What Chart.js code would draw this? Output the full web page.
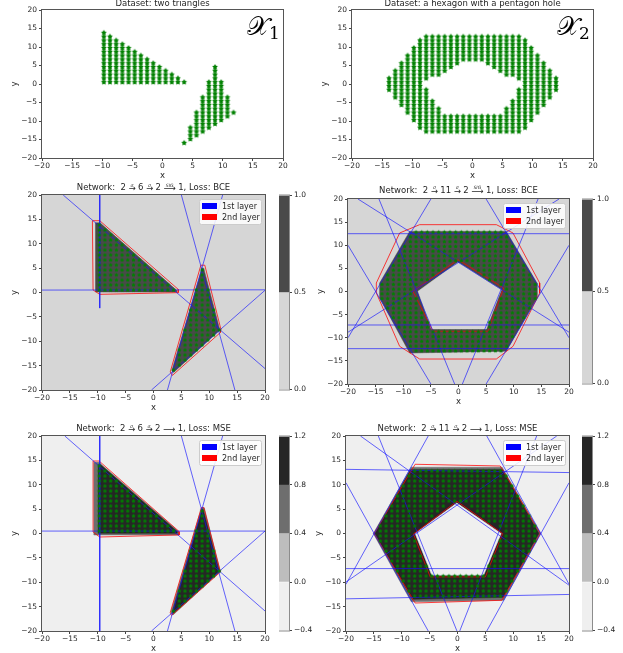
<!DOCTYPE html>
<html>
<head>
<meta charset="utf-8">
<script src="https://cdn.jsdelivr.net/npm/chart.js@4.4.1/dist/chart.umd.min.js"></script>
<style>
  html, body { margin: 0; padding: 0; background: #fff; }
  #fig { position: relative; width: 623px; height: 653px; overflow: hidden; }
  #fig canvas { position: absolute; }
</style>
</head>
<body>
<div id="fig"></div>
<script>
// tick values shared by all six panels
const axisTicks = [-20, -15, -10, -5, 0, 5, 10, 15, 20];

// dataset X1, two triangles: sample columns (x, lowest y, highest y)
const triColX  = [-9.74, -8.72, -7.69, -6.67, -5.64, -4.62, -3.59, -2.56, -1.54, -0.51, 0.51, 1.54, 2.56, 3.59,
                  3.59, 4.62, 5.64, 6.67, 7.69, 8.72, 9.74, 10.77, 11.79];
const triColLo = [0.51, 0.51, 0.51, 0.51, 0.51, 0.51, 0.51, 0.51, 0.51, 0.51, 0.51, 0.51, 0.51, 0.51,
                  -15.9, -14.87, -13.85, -12.82, -11.79, -10.77, -9.74, -8.72, -7.69];
const triColHi = [13.85, 12.82, 11.79, 10.77, 9.74, 8.72, 7.69, 6.67, 5.64, 4.62, 3.59, 2.56, 1.54, 0.51,
                  -15.9, -11.79, -7.69, -3.59, 0.51, 4.62, 0.51, -3.59, -7.69];

// dataset X2, hexagon with pentagon hole: columns and the gap of the hole in each column
const hexColX  = [-13.85, -12.82, -11.79, -10.77, -9.74, -8.72, -7.69, -6.67, -5.64, -4.62, -3.59, -2.56, -1.54, -0.51,
                  0.51, 1.54, 2.56, 3.59, 4.62, 5.64, 6.67, 7.69, 8.72, 9.74, 10.77, 11.79, 12.82, 13.85];
const hexColHi = [1.54, 3.59, 5.64, 7.69, 9.74, 11.79, 12.82, 12.82, 12.82, 12.82, 12.82, 12.82, 12.82, 12.82,
                  12.82, 12.82, 12.82, 12.82, 12.82, 12.82, 12.82, 12.82, 11.79, 9.74, 7.69, 5.64, 3.59, 1.54];
const hexColLo = [-1.54, -3.59, -5.64, -7.69, -9.74, -11.79, -12.82, -12.82, -12.82, -12.82, -12.82, -12.82, -12.82, -12.82,
                  -12.82, -12.82, -12.82, -12.82, -12.82, -12.82, -12.82, -12.82, -11.79, -9.74, -7.69, -5.64, -3.59, -1.54];
const hexGapLo = [null, null, null, null, null, null, -0.51, -3.59, -5.64, -7.69, -7.69, -7.69, -7.69, -7.69,
                  -7.69, -7.69, -7.69, -7.69, -7.69, -5.64, -3.59, -0.51, null, null, null, null, null, null];
const hexGapHi = [null, null, null, null, null, null, 0.51, 1.54, 1.54, 2.56, 3.59, 4.62, 5.64, 5.64,
                  5.64, 5.64, 4.62, 3.59, 2.56, 1.54, 1.54, 0.51, null, null, null, null, null, null];
const gridStep = 1.0256;

// triangles, BCE: first-layer lines [x1, y1, x2, y2], second-layer outlines, region > 0.5
const triBceLayer1 = [[-16.2, 20, 20, -15.6], [-20, 0.5, 20, 0.55], [-9.64, 20, -9.64, -3.2],
                      [5.0, 20, 14.6, -20], [12.4, 20, 2.5, -20], [-0.36, -20, 20, 0.45]];
const triBceLayer2 = [[[-10.96, 14.73], [-9.64, 14.73], [4.43, 0.65], [4.43, -0.03], [-9.64, -0.38], [-10.84, 0.51], [-10.96, 14.73]],
                      [[8.5, 5.6], [9.2, 5.6], [12.1, -7.6], [12.0, -8.2], [3.4, -17.0], [3.0, -16.3], [8.5, 5.6]]];
const triBceHigh = [[[-10.4, 14.3], [-9.6, 14.3], [4.1, 0.5], [4.1, 0.1], [-10.4, 0.1]],
                    [[8.7, 5.0], [9.0, 5.0], [11.9, -7.7], [3.6, -16.4], [3.3, -16.0]]];

// triangles, MSE
const triMseLayer1 = [[-15.9, 20, 20, -15.9], [-20, 0.5, 20, 0.5], [-9.64, 20, -9.64, -20],
                      [5.0, 20, 14.6, -20], [12.4, 20, 2.5, -20], [-0.36, -20, 20, 0.5]];
const triMseLayer2 = [[[-10.84, 14.87], [-9.76, 14.87], [4.6, 0.4], [4.6, -0.3], [-9.64, -0.72], [-10.84, 0.31], [-10.84, 14.87]],
                      [[8.6, 5.3], [9.04, 5.3], [12.0, -7.9], [3.23, -16.8], [3.0, -16.2], [8.6, 5.3]]];
const triMseMid  = [[[-10.7, 14.6], [-9.8, 14.6], [4.5, 0.4], [4.5, -0.3], [-10.7, -0.3]],
                    [[8.6, 5.3], [9.1, 5.3], [12.0, -7.8], [3.5, -16.7], [3.1, -16.2]]];
const triMseHigh = [[[-9.9, 14.1], [-9.5, 14.1], [4.2, 0.45], [4.2, 0.05], [-9.9, 0.05]],
                    [[8.7, 4.9], [8.9, 4.9], [11.8, -7.8], [3.6, -16.3], [3.4, -16.0]]];

// hexagon, BCE
const hexBceLayer1 = [[-20, 12.5, 20, 12.5], [-20, -7.24, 20, -7.24], [-20, -12.36, 20, -12.36],
                      [-18.2, 20, 20, -8.8], [18.2, 20, -20, -8.8], [-14.4, 20, -0.7, -20], [14.4, 20, 0.7, -20],
                      [-5.0, 20, -20, -10.0], [5.0, 20, 20, -10.0], [-20, 10.0, -5.0, -20], [20, 10.0, 5.0, -20]];
const hexBceLayer2 = [[[-7.03, 14.45], [6.85, 14.45], [9.86, 12.65], [14.69, 1.84], [14.69, -0.32], [9.86, -11.86],
                       [6.85, -14.6], [-7.03, -14.6], [-10.65, -11.86], [-14.87, -0.32], [-14.87, 1.84], [-10.65, 12.65], [-7.03, 14.45]],
                      [[-8.24, 0.04], [-0.09, 6.88], [8.17, 0.76], [5.34, -8.6], [-4.6, -8.6], [-8.24, 0.04]]];
const hexBceHigh = [[-14.27, 1.84], [-8.84, 13.0], [8.66, 13.0], [14.2, 1.84], [14.2, -1.4], [8.66, -12.9], [-8.84, -13.3], [-14.27, -1.4]];
const hexBceGap  = [[-7.33, 0.04], [-0.09, 6.3], [7.75, 0.4], [5.04, -8.1], [-4.9, -8.1]];

// hexagon, MSE
const hexMseLayer1 = [[-20, 13.16, 20, 12.5], [-20, -7.2, 20, -7.2], [-20, -13.4, 20, -12.5],
                      [-17.4, 20, 20, -10.6], [17.8, 20, -20, -9.95], [-14.2, 20, -0.1, -20], [14.2, 20, 0.4, -20],
                      [-5.25, 20, -20, -10.4], [5.25, 20, 20, -10.4], [-20, 10.4, -5.25, -20], [20, 10.4, 5.25, -20]];
const hexMseLayer2 = [[[-14.97, 0], [-7.6, 14.2], [7.66, 13.85], [14.85, 0], [7.96, -13.7], [-7.6, -14.26], [-14.97, 0]],
                      [[-7.9, -0.1], [-0.1, 6.6], [8.1, 0], [5.0, -8.9], [-4.9, -8.9], [-7.9, -0.1]]];
const hexMseMid  = [[-15.1, 0], [-8.3, 13.6], [8.0, 13.6], [14.9, 0], [8.3, -13.7], [-8.3, -14.0]];
const hexMseHigh = [[-14.8, 0], [-8.4, 13.1], [8.1, 13.1], [14.6, 0], [8.2, -13.1], [-8.1, -13.5]];
const hexMseGap  = [[-7.6, 0], [-0.12, 6.26], [7.84, 0], [4.67, -8.58], [-4.61, -8.58]];

// colour bars: level edges and tick labels
const cbBceEdges = [0, 0.5, 1.0];
const cbMseEdges = [-0.4, 0, 0.4, 0.8, 1.2];

const legendLabels = ['1st layer', '2nd layer'];

const FONT = 'DejaVu Sans';
const INK = '#262626';
const BLUE = 'rgba(20,20,255,0.65)';
const RED = 'rgba(255,0,0,0.75)';
const GREYS_BCE = ['#d6d6d6', '#4a4a4a'];
const GREYS_MSE = ['#efefef', '#bdbdbd', '#6e6e6e', '#262626'];

const fig = document.getElementById('fig');
const fmt = v => (v < 0 ? '\u2212' + Math.abs(v) : String(v));
const fmt1 = v => (v < 0 ? '\u2212' + Math.abs(v).toFixed(1) : v.toFixed(1));

function expand(xs, lo, hi, gapLo, gapHi) {
  const pts = [];
  xs.forEach((x, i) => {
    const n = Math.round((hi[i] - lo[i]) / gridStep);
    for (let k = 0; k <= n; k++) {
      const y = +(lo[i] + k * gridStep).toFixed(2);
      if (gapLo && gapLo[i] !== null && y > gapLo[i] - 0.05 && y < gapHi[i] + 0.05) continue;
      pts.push({ x, y });
    }
  });
  return pts;
}
const triPoints = expand(triColX, triColLo, triColHi);
const hexPoints = expand(hexColX, hexColLo, hexColHi, hexGapLo, hexGapHi);

// small filled star, like the '*' marker
function starMarker(r, color) {
  const s = Math.ceil(2 * r + 2), c = document.createElement('canvas');
  c.width = c.height = s;
  const g = c.getContext('2d');
  g.fillStyle = color;
  g.beginPath();
  for (let i = 0; i < 10; i++) {
    const a = -Math.PI / 2 + i * Math.PI / 5, rr = i % 2 ? r * 0.55 : r;
    g.lineTo(s / 2 + rr * Math.cos(a), s / 2 + rr * Math.sin(a));
  }
  g.closePath();
  g.fill();
  return c;
}
const STAR_BIG = starMarker(3.0, '#008000');
const STAR = starMarker(2.3, '#008000');

const pointSet = (pts, marker) => ({ type: 'scatter', data: pts, pointStyle: marker || STAR, pointRadius: 3, order: 0 });
const lineSets = (segs, color) => segs.map(s => ({
  type: 'line', data: [{ x: s[0], y: s[1] }, { x: s[2], y: s[3] }],
  borderColor: color, borderWidth: 1, pointRadius: 0, fill: false, order: 1
}));
const outlineSets = (polys, color) => polys.map(p => ({
  type: 'line', data: p.map(([x, y]) => ({ x, y })),
  borderColor: color, borderWidth: 1, pointRadius: 0, fill: false, order: 2
}));
const regionSet = (poly, color, order) => ({
  type: 'line', data: poly.concat([poly[0]]).map(([x, y]) => ({ x, y })),
  backgroundColor: color, borderColor: color, borderWidth: 0.5, pointRadius: 0, fill: 'shape', order
});

// background, frame, titles, legend and the X labels
function drawTitle(ctx, parts, cx, cy) {
  const main = '8.5px "' + FONT + '"';
  const gap = 2.5;
  ctx.font = main;
  const widths = parts.map(p => ctx.measureText(typeof p === 'string' ? p : p[0]).width);
  const total = widths.reduce((s, w) => s + w, 0) + gap * (parts.length - 1);
  let x = cx - total / 2;
  ctx.fillStyle = INK;
  ctx.textBaseline = 'middle';
  parts.forEach((p, i) => {
    ctx.font = main;
    ctx.textAlign = 'left';
    if (typeof p === 'string') {
      ctx.fillText(p, x, cy);
    } else {
      ctx.fillText(p[0], x, cy + 1);
      if (p[1]) {
        ctx.font = 'italic 4.5px "' + FONT + '"';
        ctx.textAlign = 'center';
        ctx.fillText(p[1], x + widths[i] / 2, cy - 2.5);
      }
    }
    x += widths[i] + gap;
  });
}
function drawLegend(ctx, a) {
  const w = 62, h = 25, m = 4;
  const x0 = a.right - m - w, y0 = a.top + m;
  ctx.fillStyle = 'rgba(255,255,255,0.85)';
  ctx.strokeStyle = '#cccccc';
  ctx.lineWidth = 1;
  ctx.beginPath();
  ctx.roundRect(x0 + 0.5, y0 + 0.5, w, h, 2);
  ctx.fill();
  ctx.stroke();
  const colors = ['#0000ff', '#ff0000'];
  legendLabels.forEach((lab, i) => {
    const cy = y0 + 7 + i * 11;
    ctx.fillStyle = colors[i];
    ctx.fillRect(x0 + 3, cy - 3, 15, 6);
    ctx.fillStyle = INK;
    ctx.font = '8px "' + FONT + '"';
    ctx.textAlign = 'left';
    ctx.textBaseline = 'middle';
    ctx.fillText(lab, x0 + 23, cy + 0.5);
  });
}
function drawMark(ctx, mark, a) {
  ctx.fillStyle = '#000';
  ctx.textAlign = 'left';
  ctx.textBaseline = 'alphabetic';
  ctx.font = '26px "DejaVu Serif"';
  const x = a.right - 36;
  ctx.fillText(mark[0], x, a.top + 25);
  const w = ctx.measureText(mark[0]).width;
  ctx.font = '17px "DejaVu Serif"';
  ctx.fillText(mark[1], x + w, a.top + 29);
}
const extras = {
  id: 'extras',
  beforeDraw(chart, args, o) {
    const a = chart.chartArea, ctx = chart.ctx;
    if (o.bg) {
      ctx.save();
      ctx.fillStyle = o.bg;
      ctx.fillRect(a.left, a.top, a.right - a.left, a.bottom - a.top);
      ctx.restore();
    }
  },
  afterDraw(chart, args, o) {
    const a = chart.chartArea, ctx = chart.ctx;
    ctx.save();
    if (o.frame) {
      ctx.strokeStyle = o.frame;
      ctx.lineWidth = 1;
      ctx.strokeRect(a.left - 0.5, a.top - 0.5, a.right - a.left + 1, a.bottom - a.top + 1);
    }
    if (o.title) drawTitle(ctx, o.title, (a.left + a.right) / 2, a.top - (o.titleGap || 7));
    if (o.legend) drawLegend(ctx, a);
    if (o.mark) drawMark(ctx, o.mark, a);
    ctx.restore();
  }
};
Chart.register(extras);

function addCanvas(left, top, w, h) {
  const c = document.createElement('canvas');
  c.width = w; c.height = h;
  c.style.left = left + 'px'; c.style.top = top + 'px';
  c.style.width = w + 'px'; c.style.height = h + 'px';
  fig.appendChild(c);
  return c;
}

const YW = 32, XH = 23, PR = 12;
function axis(id) {
  return {
    type: 'linear', min: -20, max: 20,
    afterBuildTicks: s => { s.ticks = axisTicks.map(v => ({ value: v })); },
    afterFit: s => { if (id === 'x') s.height = XH; else s.width = YW; },
    ticks: { font: { family: FONT, size: 7.5 }, color: INK, padding: id === 'x' ? 1 : 2,
             maxRotation: 0, autoSkip: false, callback: v => fmt(v) },
    grid: { drawOnChartArea: false, drawTicks: true, tickLength: 3, color: '#444' },
    border: { display: false },
    title: { display: true, text: id, font: { family: FONT, size: 8.5 }, color: INK, padding: 0 }
  };
}

function panel(box, datasets, extra) {
  const PT = Math.min(box.T, 22);
  const cv = addCanvas(box.L - YW, box.T - PT, box.R - box.L + YW + PR, box.B - box.T + PT + XH);
  return new Chart(cv, {
    type: 'scatter',
    data: { datasets },
    options: {
      responsive: false, animation: false, devicePixelRatio: 1, events: [],
      layout: { padding: { top: PT, right: PR, left: 0, bottom: 0 } },
      plugins: { legend: { display: false }, tooltip: { enabled: false }, extras: Object.assign({ frame: '#555' }, extra) },
      scales: { x: axis('x'), y: axis('y') }
    }
  });
}

function colorbar(box, edges, colors) {
  const W = 28, P = 6;
  const cv = addCanvas(box.L, box.T - P, box.R - box.L + W, box.B - box.T + 2 * P);
  return new Chart(cv, {
    type: 'bar',
    data: {
      labels: [''],
      datasets: colors.map((c, i) => ({
        data: [[edges[i], edges[i + 1]]], backgroundColor: c, borderWidth: 0,
        grouped: false, barPercentage: 1, categoryPercentage: 1
      }))
    },
    options: {
      responsive: false, animation: false, devicePixelRatio: 1, events: [],
      layout: { padding: { top: P, bottom: P, left: 0, right: 0 } },
      plugins: { legend: { display: false }, tooltip: { enabled: false }, extras: { frame: '#8c8c8c' } },
      scales: {
        x: { display: false },
        y: {
          position: 'right', min: edges[0], max: edges[edges.length - 1],
          afterBuildTicks: s => { s.ticks = edges.map(v => ({ value: v })); },
          afterFit: s => { s.width = W; },
          ticks: { font: { family: FONT, size: 7.5 }, color: INK, padding: 2, callback: v => fmt1(v) },
          grid: { drawOnChartArea: false, tickLength: 3, color: '#444' },
          border: { display: false }
        }
      }
    }
  });
}

const titleTriBce = ['Network:  2', ['\u2192', '\u03c3'], '6', ['\u2192', '\u03c3'], '2', ['\u27f6', 'SIG'], '1, Loss: BCE'];
const titleHexBce = ['Network:  2', ['\u2192', '\u03c3'], '11', ['\u2192', '\u03c3'], '2', ['\u27f6', 'SIG'], '1, Loss: BCE'];
const titleTriMse = ['Network:  2', ['\u2192', '\u03c3'], '6', ['\u2192', '\u03c3'], '2', ['\u27f6', ''], '1, Loss: MSE'];
const titleHexMse = ['Network:  2', ['\u2192', '\u03c3'], '11', ['\u2192', '\u03c3'], '2', ['\u27f6', ''], '1, Loss: MSE'];

// top row: the two datasets
panel({ L: 42, R: 283, T: 10, B: 158 }, [pointSet(triPoints, STAR_BIG)],
      { title: ['Dataset: two triangles'], titleGap: 6.5, mark: ['\ud835\udcb3', '1'] });
panel({ L: 352, R: 593, T: 10, B: 158 }, [pointSet(hexPoints, STAR_BIG)],
      { title: ['Dataset: a hexagon with a pentagon hole'], titleGap: 6.5, mark: ['\ud835\udcb3', '2'] });

// middle row: BCE networks
panel({ L: 42, R: 265, T: 195, B: 390 },
      [pointSet(triPoints), ...lineSets(triBceLayer1, BLUE), ...outlineSets(triBceLayer2, RED),
       ...triBceHigh.map(p => regionSet(p, GREYS_BCE[1], 4))],
      { bg: GREYS_BCE[0], title: titleTriBce, legend: true });
colorbar({ L: 279, R: 289, T: 195, B: 390 }, cbBceEdges, GREYS_BCE);

panel({ L: 348, R: 569, T: 199, B: 384 },
      [pointSet(hexPoints), ...lineSets(hexBceLayer1, BLUE), ...outlineSets(hexBceLayer2, RED),
       regionSet(hexBceGap, GREYS_BCE[0], 3), regionSet(hexBceHigh, GREYS_BCE[1], 4)],
      { bg: GREYS_BCE[0], title: titleHexBce, legend: true, titleGap: 8.5 });
colorbar({ L: 582, R: 592, T: 199, B: 384 }, cbBceEdges, GREYS_BCE);

// bottom row: MSE networks
panel({ L: 42, R: 265, T: 436, B: 631 },
      [pointSet(triPoints), ...lineSets(triMseLayer1, BLUE), ...outlineSets(triMseLayer2, RED),
       ...triMseHigh.map(p => regionSet(p, GREYS_MSE[3], 4)), ...triMseMid.map(p => regionSet(p, GREYS_MSE[2], 5))],
      { bg: GREYS_MSE[0], title: titleTriMse, legend: true });
colorbar({ L: 279, R: 289, T: 436, B: 631 }, cbMseEdges, GREYS_MSE);

panel({ L: 346, R: 569, T: 436, B: 631 },
      [pointSet(hexPoints), ...lineSets(hexMseLayer1, BLUE), ...outlineSets(hexMseLayer2, RED),
       regionSet(hexMseGap, GREYS_MSE[0], 3), regionSet(hexMseHigh, GREYS_MSE[3], 4), regionSet(hexMseMid, GREYS_MSE[2], 5)],
      { bg: GREYS_MSE[0], title: titleHexMse, legend: true });
colorbar({ L: 582, R: 592, T: 436, B: 631 }, cbMseEdges, GREYS_MSE);
</script>
</body>
</html>
